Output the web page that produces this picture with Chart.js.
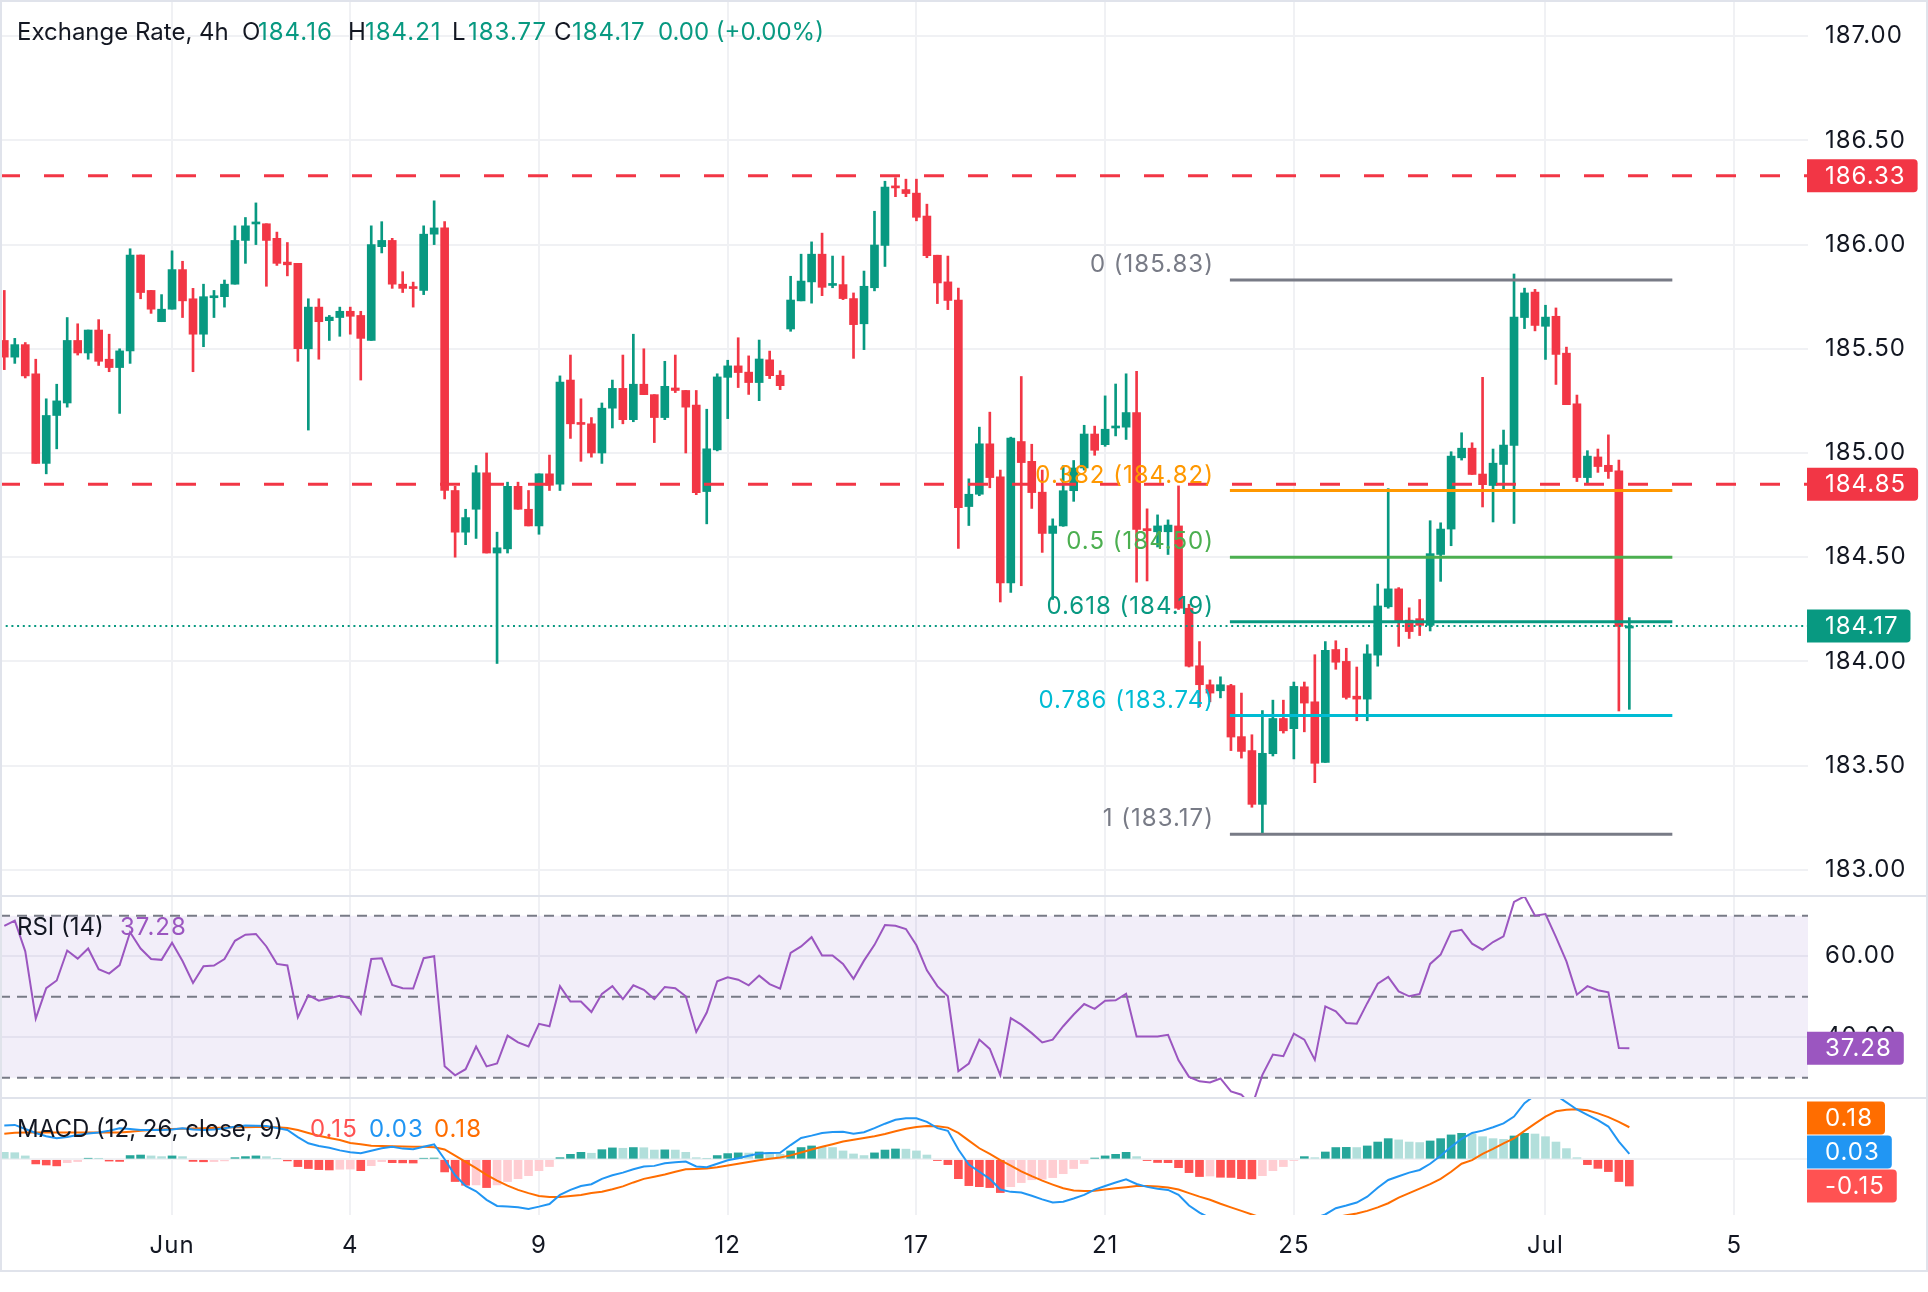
<!DOCTYPE html>
<html>
<head>
<meta charset="utf-8">
<title>Exchange Rate, 4h</title>
<script src="https://cdn.jsdelivr.net/npm/chart.js@4.4.1/dist/chart.umd.min.js"></script>
<style>
    html, body { margin: 0; padding: 0; background: #fff; }
    #wrap { position: relative; width: 1928px; height: 1292px; overflow: hidden; background: #fff; }
    canvas { position: absolute; left: 0; display: block; }
    #priceChart { top: 0; }
    #rsiChart { top: 895px; }
    #macdChart { top: 1097px; }
</style>
</head>
<body>
<div id="wrap">
    <canvas id="priceChart" width="1928" height="895"></canvas>
    <canvas id="rsiChart" width="1928" height="202"></canvas>
    <canvas id="macdChart" width="1928" height="175"></canvas>
</div>
<script>
const opens = [
    185.54, 185.46, 185.52, 185.38, 184.95, 185.18, 185.24, 185.54, 185.48, 185.59,
    185.45, 185.41, 185.49, 185.95, 185.78, 185.63, 185.69, 185.88, 185.74, 185.57,
    185.745, 185.75, 185.81, 186.02, 186.099, 186.10, 186.03, 185.916, 185.91, 185.50,
    185.70, 185.635, 185.65, 185.68, 185.66, 185.54, 185.99, 186.02, 185.81, 185.795,
    185.78, 186.05, 186.08, 184.82, 184.62, 184.73, 184.905, 184.52, 184.54, 184.84,
    184.73, 184.65, 184.90, 184.85, 185.35, 185.143, 185.14, 185.00, 185.215, 185.31,
    185.16, 185.33, 185.28, 185.17, 185.312, 185.30, 185.23, 184.815, 185.015, 185.363,
    185.418, 185.388, 185.338, 185.447, 185.373, 185.595, 185.730, 185.821, 185.954, 185.804,
    185.808, 185.741, 185.620, 185.793, 185.996, 186.281, 186.264, 186.247, 186.137, 185.949,
    185.821, 185.734, 184.743, 184.802, 185.044, 184.886, 184.376, 185.055, 184.960, 184.812,
    184.614, 184.650, 184.819, 184.928, 185.091, 185.040, 185.120, 185.124, 185.194, 184.637,
    184.622, 184.622, 184.650, 184.255, 183.979, 183.888, 183.859, 183.884, 183.639, 183.572,
    183.314, 183.557, 183.726, 183.677, 183.878, 183.806, 183.515, 184.057, 184.000, 183.833,
    183.819, 184.030, 184.262, 184.348, 184.198, 184.205, 184.173, 184.513, 184.635, 184.977,
    185.023, 184.899, 184.844, 184.945, 185.036, 185.650, 185.772, 185.608, 185.656, 185.479,
    185.236, 184.882, 184.981, 184.941, 184.914, 184.16
];
const highs = [
    185.78, 185.55, 185.53, 185.45, 185.26, 185.33, 185.65, 185.62, 185.59, 185.64,
    185.57, 185.50, 185.98, 185.95, 185.78, 185.76, 185.97, 185.92, 185.79, 185.81,
    185.78, 185.83, 186.09, 186.13, 186.20, 186.10, 186.06, 186.01, 185.91, 185.74,
    185.74, 185.66, 185.70, 185.70, 185.68, 186.09, 186.11, 186.03, 185.87, 185.82,
    186.09, 186.21, 186.11, 184.84, 184.73, 184.94, 185.00, 184.62, 184.86, 184.86,
    184.82, 184.90, 184.99, 185.37, 185.47, 185.26, 185.17, 185.24, 185.35, 185.47,
    185.57, 185.50, 185.28, 185.44, 185.47, 185.30, 185.30, 185.21, 185.38, 185.445,
    185.553, 185.466, 185.542, 185.489, 185.395, 185.848, 185.954, 186.013, 186.055, 185.945,
    185.945, 185.768, 185.873, 186.160, 186.304, 186.321, 186.314, 186.314, 186.194, 185.949,
    185.945, 185.791, 184.876, 185.124, 185.196, 184.918, 185.076, 185.367, 185.042, 184.918,
    184.684, 184.939, 184.964, 185.133, 185.129, 185.274, 185.331, 185.380, 185.392, 184.732,
    184.703, 184.679, 184.842, 184.274, 184.095, 183.911, 183.926, 183.890, 183.848, 183.648,
    183.764, 183.814, 183.814, 183.901, 183.901, 184.032, 184.095, 184.099, 184.063, 183.973,
    184.080, 184.371, 184.829, 184.354, 184.257, 184.297, 184.675, 184.665, 185.006, 185.097,
    185.049, 185.363, 185.019, 185.110, 185.859, 185.791, 185.785, 185.709, 185.696, 185.508,
    185.278, 185.011, 185.019, 185.087, 184.966, 184.21
];
const lows = [
    185.40, 185.43, 185.36, 184.95, 184.90, 185.02, 185.22, 185.47, 185.45, 185.42,
    185.39, 185.19, 185.43, 185.74, 185.67, 185.63, 185.69, 185.65, 185.39, 185.51,
    185.65, 185.70, 185.81, 185.91, 186.00, 185.80, 185.90, 185.85, 185.44, 185.11,
    185.45, 185.54, 185.56, 185.57, 185.35, 185.54, 185.96, 185.79, 185.77, 185.70,
    185.76, 186.00, 184.78, 184.50, 184.56, 184.59, 184.52, 183.99, 184.52, 184.73,
    184.65, 184.61, 184.82, 184.82, 185.07, 184.96, 184.98, 184.95, 185.12, 185.14,
    185.15, 185.28, 185.05, 185.16, 185.29, 185.00, 184.80, 184.66, 185.01, 185.165,
    185.314, 185.281, 185.251, 185.357, 185.304, 185.584, 185.730, 185.719, 185.755, 185.793,
    185.736, 185.454, 185.496, 185.778, 185.895, 186.230, 186.230, 186.114, 185.937, 185.717,
    185.688, 184.542, 184.652, 184.795, 184.833, 184.285, 184.331, 184.363, 184.734, 184.523,
    184.297, 184.648, 184.768, 184.918, 184.989, 185.032, 185.082, 185.065, 184.380, 184.386,
    184.549, 184.513, 184.249, 183.973, 183.783, 183.806, 183.825, 183.572, 183.536, 183.300,
    183.171, 183.546, 183.656, 183.532, 183.662, 183.418, 183.515, 183.962, 183.819, 183.715,
    183.715, 183.977, 184.255, 184.072, 184.110, 184.124, 184.146, 184.384, 184.555, 184.966,
    184.897, 184.741, 184.669, 184.823, 184.662, 185.597, 185.586, 185.449, 185.329, 185.232,
    184.863, 184.854, 184.907, 184.878, 183.762, 183.77
];
const closes = [
    185.46, 185.52, 185.37, 184.95, 185.18, 185.25, 185.54, 185.48, 185.59, 185.44,
    185.41, 185.49, 185.95, 185.77, 185.69, 185.69, 185.88, 185.73, 185.57, 185.75,
    185.753, 185.81, 186.02, 186.09, 186.105, 186.02, 185.91, 185.903, 185.50, 185.70,
    185.63, 185.652, 185.68, 185.656, 185.55, 186.00, 186.02, 185.81, 185.79, 185.789,
    186.05, 186.08, 184.82, 184.62, 184.69, 184.905, 184.52, 184.545, 184.84, 184.73,
    184.65, 184.90, 184.845, 185.34, 185.14, 185.137, 185.00, 185.215, 185.31, 185.16,
    185.33, 185.28, 185.17, 185.32, 185.30, 185.22, 184.81, 185.02, 185.365, 185.418,
    185.386, 185.338, 185.451, 185.371, 185.323, 185.734, 185.825, 185.954, 185.795, 185.812,
    185.741, 185.616, 185.800, 185.998, 186.276, 186.272, 186.245, 186.131, 185.947, 185.816,
    185.732, 184.738, 184.802, 185.044, 184.882, 184.376, 185.072, 184.954, 184.810, 184.614,
    184.650, 184.819, 184.928, 185.091, 185.013, 185.114, 185.127, 185.194, 184.633, 184.627,
    184.650, 184.654, 184.255, 183.977, 183.888, 183.848, 183.888, 183.637, 183.568, 183.314,
    183.559, 183.726, 183.667, 183.880, 183.800, 183.511, 184.053, 183.996, 183.827, 183.819,
    184.036, 184.266, 184.348, 184.188, 184.143, 184.173, 184.517, 184.635, 184.985, 185.023,
    184.897, 184.848, 184.951, 185.038, 185.652, 185.768, 185.612, 185.652, 185.473, 185.232,
    184.882, 184.985, 184.935, 184.911, 184.168, 184.17
];

const rsiValues = [
    67.5, 68.8, 61.2, 44.6, 52.1, 54.0, 61.4, 59.4, 61.9, 56.8,
    55.7, 57.8, 65.9, 61.9, 59.3, 59.1, 63.3, 58.8, 53.4, 57.5,
    57.7, 59.3, 63.8, 65.3, 65.5, 62.4, 58.1, 57.7, 44.9, 50.4,
    49.0, 49.6, 50.2, 49.6, 45.8, 59.3, 59.5, 52.9, 52.1, 52.0,
    59.5, 60.0, 32.8, 30.6, 32.1, 37.7, 32.8, 33.5, 40.4, 38.7,
    37.7, 43.3, 42.7, 52.6, 48.8, 48.8, 46.2, 50.7, 52.6, 49.4,
    52.8, 51.7, 49.4, 52.4, 52.1, 50.1, 41.3, 46.1, 53.8, 54.8,
    54.2, 52.8, 55.2, 53.1, 52.0, 60.8, 62.4, 64.7, 60.2, 60.2,
    58.1, 54.4, 58.9, 62.8, 67.7, 67.5, 66.7, 62.7, 56.5, 52.6,
    50.1, 31.6, 33.5, 39.4, 37.1, 30.6, 44.7, 43.1, 41.0, 38.7,
    39.4, 42.7, 45.6, 48.2, 47.0, 49.0, 49.1, 50.7, 40.2, 40.2,
    40.2, 40.6, 34.3, 30.2, 29.1, 28.8, 29.8, 26.6, 25.8, 22.9,
    30.7, 35.7, 35.3, 40.9, 39.4, 34.4, 47.6, 46.4, 43.5, 43.3,
    48.4, 53.2, 54.9, 51.3, 50.1, 50.7, 58.1, 60.4, 66.0, 66.5,
    63.1, 61.6, 63.5, 64.9, 73.4, 74.8, 70.0, 70.4, 64.7, 58.7,
    50.5, 52.6, 51.6, 51.1, 37.3, 37.28
];

const macdLine = [
    0.190, 0.193, 0.170, 0.148, 0.130, 0.118, 0.125, 0.137, 0.145, 0.150,
    0.160, 0.174, 0.170, 0.165, 0.165, 0.165, 0.168, 0.174, 0.168, 0.165,
    0.168, 0.174, 0.183, 0.190, 0.189, 0.187, 0.176, 0.165, 0.125, 0.090,
    0.075, 0.065, 0.050, 0.040, 0.034, 0.048, 0.062, 0.070, 0.060, 0.056,
    0.070, 0.084, 0.000, -0.090, -0.150, -0.180, -0.228, -0.262, -0.265, -0.270,
    -0.279, -0.266, -0.251, -0.200, -0.172, -0.150, -0.140, -0.110, -0.090, -0.075,
    -0.056, -0.040, -0.037, -0.022, -0.016, -0.013, -0.040, -0.045, -0.025, -0.005,
    0.006, 0.020, 0.033, 0.035, 0.037, 0.080, 0.120, 0.133, 0.148, 0.153,
    0.155, 0.143, 0.152, 0.175, 0.200, 0.222, 0.230, 0.230, 0.210, 0.175,
    0.160, 0.055, -0.030, -0.070, -0.110, -0.170, -0.183, -0.187, -0.205, -0.225,
    -0.243, -0.238, -0.220, -0.200, -0.170, -0.150, -0.130, -0.112, -0.139, -0.155,
    -0.165, -0.172, -0.200, -0.260, -0.300, -0.330, -0.360, -0.370, -0.400, -0.420,
    -0.420, -0.400, -0.385, -0.350, -0.330, -0.330, -0.310, -0.275, -0.260, -0.243,
    -0.210, -0.160, -0.116, -0.095, -0.075, -0.060, -0.025, 0.020, 0.070, 0.115,
    0.148, 0.161, 0.180, 0.202, 0.240, 0.315, 0.360, 0.380, 0.360, 0.320,
    0.280, 0.250, 0.220, 0.184, 0.099, 0.030
];
const signalLine = [
    0.143, 0.149, 0.150, 0.150, 0.150, 0.150, 0.150, 0.150, 0.150, 0.150,
    0.150, 0.150, 0.155, 0.160, 0.165, 0.168, 0.170, 0.172, 0.173, 0.174,
    0.176, 0.178, 0.180, 0.180, 0.181, 0.181, 0.180, 0.176, 0.165, 0.148,
    0.132, 0.120, 0.108, 0.092, 0.085, 0.076, 0.074, 0.073, 0.072, 0.071,
    0.070, 0.068, 0.055, 0.020, -0.015, -0.050, -0.088, -0.120, -0.148, -0.172,
    -0.190, -0.206, -0.212, -0.212, -0.206, -0.200, -0.190, -0.182, -0.168, -0.152,
    -0.130, -0.110, -0.098, -0.085, -0.070, -0.056, -0.054, -0.052, -0.045, -0.035,
    -0.025, -0.015, -0.005, 0.003, 0.010, 0.022, 0.038, 0.055, 0.070, 0.085,
    0.100, 0.110, 0.120, 0.130, 0.142, 0.158, 0.172, 0.182, 0.187, 0.185,
    0.178, 0.148, 0.105, 0.062, 0.030, -0.005, -0.035, -0.068, -0.095, -0.120,
    -0.142, -0.163, -0.175, -0.178, -0.177, -0.170, -0.163, -0.157, -0.150, -0.150,
    -0.153, -0.158, -0.170, -0.190, -0.210, -0.227, -0.250, -0.270, -0.290, -0.310,
    -0.330, -0.340, -0.345, -0.345, -0.345, -0.340, -0.335, -0.325, -0.315, -0.305,
    -0.290, -0.270, -0.247, -0.215, -0.190, -0.165, -0.140, -0.110, -0.070, -0.025,
    -0.005, 0.030, 0.058, 0.090, 0.118, 0.160, 0.200, 0.240, 0.270, 0.278,
    0.281, 0.275, 0.258, 0.237, 0.210, 0.180
];
const macdHist = [
    0.039, 0.037, 0.019, -0.026, -0.032, -0.037, -0.019, -0.013, 0.006, 0.004,
    -0.010, -0.012, 0.021, 0.024, 0.019, 0.015, 0.019, 0.015, -0.012, -0.014,
    -0.013, -0.009, 0.009, 0.015, 0.019, 0.015, 0.004, -0.009, -0.041, -0.052,
    -0.058, -0.060, -0.056, -0.055, -0.064, -0.036, -0.013, -0.019, -0.020, -0.021,
    0.006, 0.007, -0.071, -0.125, -0.146, -0.144, -0.159, -0.144, -0.125, -0.109,
    -0.092, -0.064, -0.041, 0.009, 0.028, 0.039, 0.034, 0.054, 0.064, 0.062,
    0.066, 0.065, 0.052, 0.053, 0.052, 0.039, 0.009, 0.004, 0.021, 0.032,
    0.036, 0.035, 0.041, 0.037, 0.028, 0.047, 0.066, 0.075, 0.068, 0.066,
    0.047, 0.030, 0.021, 0.036, 0.052, 0.058, 0.057, 0.047, 0.024, -0.007,
    -0.030, -0.109, -0.148, -0.154, -0.159, -0.187, -0.154, -0.131, -0.115, -0.112,
    -0.103, -0.081, -0.052, -0.024, 0.007, 0.019, 0.028, 0.039, 0.015, -0.007,
    -0.018, -0.019, -0.047, -0.075, -0.097, -0.094, -0.101, -0.102, -0.109, -0.110,
    -0.092, -0.064, -0.041, -0.007, 0.015, 0.009, 0.041, 0.066, 0.067, 0.066,
    0.075, 0.097, 0.116, 0.109, 0.097, 0.094, 0.103, 0.116, 0.137, 0.146,
    0.142, 0.127, 0.116, 0.112, 0.131, 0.146, 0.142, 0.127, 0.097, 0.060,
    0.009, -0.030, -0.051, -0.069, -0.125, -0.150
];

const priceTicks = [183.0, 183.5, 184.0, 184.5, 185.0, 185.5, 186.0, 186.5, 187.0];
const rsiTicks = [40, 60];
const rsiLevels = [70, 50, 30];
const dayTickIndex = [16, 33, 51, 69, 87, 105, 123, 147, 165];
const dayTickLabels = ['Jun', '4', '9', '12', '17', '21', '25', 'Jul', '5'];

const fibLevels = [0, 0.382, 0.5, 0.618, 0.786, 1];
const fibPrices = [185.83, 184.82, 184.50, 184.19, 183.74, 183.17];
const fibColors = ['#787B86', '#FF9800', '#4CAF50', '#089981', '#00BCD4', '#787B86'];
const fibFrom = 116.9;
const fibTo = 159.1;
const levelPrices = [186.33, 184.85];

const UP = '#089981';
const DOWN = '#F23645';
const INK = '#131722';
const GRID = '#F0F1F4';
const FRAME = '#E0E3EB';
const RSI_COLOR = '#9B56C0';
const X_MIN = -0.41;
const X_MAX = 172.04;
const FONT = 'Inter, "Noto Sans", sans-serif';
const NUM_SPACING = '1px';

Chart.defaults.font.family = FONT;
Chart.defaults.font.size = 24;

const last = closes.length - 1;
const idx = closes.map((_, i) => i);
const candleColors = closes.map((c, i) => c >= opens[i] ? UP : DOWN);
const histColors = macdHist.map((h, i) => {
    const prev = i > 0 ? macdHist[i - 1] : h;
    if (h >= 0) return h > prev ? '#26A69A' : '#B2DFDB';
    return h < prev ? '#FF5252' : '#FFCDD2';
});

function span(v) {
    return [{ x: X_MIN, y: v }, { x: X_MAX, y: v }];
}

function xAxis(showLabels, height) {
    return {
        type: 'linear',
        min: X_MIN,
        max: X_MAX,
        offset: false,
        grid: { color: GRID, lineWidth: 2, drawTicks: false, offset: false },
        border: { display: false },
        ticks: {
            display: showLabels,
            autoSkip: false,
            maxRotation: 0,
            padding: 16,
            color: INK,
            callback: v => dayTickLabels[dayTickIndex.indexOf(v)]
        },
        afterBuildTicks: scale => { scale.ticks = dayTickIndex.map(v => ({ value: v })); },
        afterFit: scale => {
            scale.height = height;
            scale.paddingLeft = 0;
            scale.paddingRight = 0;
            scale.paddingTop = 0;
            scale.paddingBottom = 0;
        }
    };
}

function yAxis(min, max, ticks, showLabels) {
    return {
        position: 'right',
        min: min,
        max: max,
        grid: { color: GRID, lineWidth: 2, drawTicks: false },
        border: { display: false },
        ticks: {
            display: showLabels,
            padding: 17,
            color: INK,
            callback: v => v.toFixed(2)
        },
        afterBuildTicks: scale => { scale.ticks = ticks.map(v => ({ value: v })); },
        afterFit: scale => {
            scale.width = 120;
            scale.paddingLeft = 0;
            scale.paddingRight = 0;
            scale.paddingTop = 0;
            scale.paddingBottom = 0;
        }
    };
}

function baseOptions(x, y) {
    return {
        responsive: false,
        animation: false,
        events: [],
        layout: { padding: 0, autoPadding: false },
        plugins: {
            legend: { display: false },
            tooltip: { enabled: false },
            filler: { drawTime: 'beforeDatasetsDraw' }
        },
        scales: { x: x, y: y }
    };
}

// wider figures for the axis labels, like the original screenshot
const spacedTicks = {
    id: 'spacedTicks',
    beforeDraw(chart) { chart.ctx.letterSpacing = NUM_SPACING; },
    afterDatasetsDraw(chart) { chart.ctx.letterSpacing = '0px'; }
};

function frame(ctx, w, h, top, bottom) {
    ctx.fillStyle = FRAME;
    ctx.fillRect(0, 0, 2, h);
    ctx.fillRect(w - 2, 0, 2, h);
    if (top) ctx.fillRect(0, 0, w, 2);
    if (bottom) ctx.fillRect(0, h - 2, w, 2);
}

function badge(ctx, text, color, yc) {
    ctx.font = '24px ' + FONT;
    ctx.letterSpacing = NUM_SPACING;
    const w = ctx.measureText(text).width + 30;
    const h = 33;
    ctx.fillStyle = color;
    ctx.beginPath();
    ctx.roundRect(1807, yc - h / 2, w, h, [0, 4, 4, 0]);
    ctx.fill();
    ctx.fillStyle = '#FFFFFF';
    ctx.textAlign = 'left';
    ctx.textBaseline = 'middle';
    ctx.fillText(text, 1825, yc + 1);
    ctx.letterSpacing = '0px';
}

// parts: [text, colour, x, spaced]
function legend(ctx, parts, baseline) {
    ctx.font = '24px ' + FONT;
    ctx.textAlign = 'left';
    ctx.textBaseline = 'alphabetic';
    parts.forEach(p => {
        ctx.letterSpacing = p[3] ? NUM_SPACING : '0px';
        ctx.fillStyle = p[1];
        ctx.fillText(p[0], p[2], baseline);
    });
    ctx.letterSpacing = '0px';
}

// price panel
const priceOverlay = {
    id: 'priceOverlay',
    afterDatasetsDraw(chart) {
        const ctx = chart.ctx;
        const x = chart.scales.x;
        const y = chart.scales.y;
        ctx.save();
        ctx.font = '24px ' + FONT;
        ctx.letterSpacing = NUM_SPACING;
        ctx.textAlign = 'right';
        ctx.textBaseline = 'alphabetic';
        fibPrices.forEach((p, k) => {
            ctx.fillStyle = fibColors[k];
            ctx.fillText(fibLevels[k] + ' (' + p.toFixed(2) + ')', x.getPixelForValue(fibFrom) - 16, y.getPixelForValue(p) - 8);
        });
        ctx.restore();
    },
    afterDraw(chart) {
        const ctx = chart.ctx;
        const y = chart.scales.y;
        ctx.save();
        levelPrices.forEach(p => badge(ctx, p.toFixed(2), DOWN, y.getPixelForValue(p)));
        badge(ctx, closes[last].toFixed(2), UP, y.getPixelForValue(closes[last]));

        const change = closes[last] - closes[last - 1];
        const pct = change / closes[last - 1] * 100;
        const changeText = change.toFixed(2) + ' (' + (pct >= 0 ? '+' : '') + pct.toFixed(2) + '%)';
        legend(ctx, [
            ['Exchange Rate, 4h', INK, 17, false],
            ['O', INK, 242, false], [opens[last].toFixed(2), UP, 258, true],
            ['H', INK, 348, false], [highs[last].toFixed(2), UP, 365, true],
            ['L', INK, 452, false], [lows[last].toFixed(2), UP, 468, true],
            ['C', INK, 554, false], [closes[last].toFixed(2), UP, 572, true],
            [changeText, UP, 658, false]
        ], 40);
        frame(ctx, chart.width, chart.height, true, false);
        ctx.restore();
    }
};

const priceDatasets = [];
fibPrices.forEach((p, k) => {
    priceDatasets.push({
        type: 'line',
        label: 'Fib ' + fibLevels[k],
        data: [{ x: fibFrom, y: p }, { x: fibTo, y: p }],
        borderColor: fibColors[k],
        borderWidth: 3,
        pointRadius: 0,
        fill: false,
        order: 0
    });
});
levelPrices.forEach(p => {
    priceDatasets.push({
        type: 'line',
        label: 'Level ' + p,
        data: span(p),
        borderColor: DOWN,
        borderWidth: 3,
        borderDash: [20, 24],
        pointRadius: 0,
        fill: false,
        order: 0
    });
});
priceDatasets.push({
    type: 'line',
    label: 'Last',
    data: span(closes[last]),
    borderColor: UP,
    borderWidth: 2,
    borderDash: [2, 3.7],
    pointRadius: 0,
    fill: false,
    order: 0
});
priceDatasets.push({
    label: 'Body',
    data: idx.map(i => ({ x: i, y: [opens[i], closes[i]] })),
    backgroundColor: candleColors,
    barThickness: 8,
    minBarLength: 2,
    grouped: false,
    order: 1
});
priceDatasets.push({
    label: 'Wick',
    data: idx.map(i => ({ x: i, y: [lows[i], highs[i]] })),
    backgroundColor: candleColors,
    barThickness: 2,
    grouped: false,
    order: 2
});

new Chart(document.getElementById('priceChart'), {
    type: 'bar',
    data: { datasets: priceDatasets },
    options: baseOptions(xAxis(false, 0), yAxis(182.879, 187.1737, priceTicks, true)),
    plugins: [spacedTicks, priceOverlay]
});

// RSI panel
const rsiOverlay = {
    id: 'rsiOverlay',
    afterDraw(chart) {
        const ctx = chart.ctx;
        const y = chart.scales.y;
        ctx.save();
        legend(ctx, [['RSI (14)', INK, 17, false], [rsiValues[last].toFixed(2), RSI_COLOR, 120, true]], 40);
        badge(ctx, rsiValues[last].toFixed(2), RSI_COLOR, y.getPixelForValue(rsiValues[last]));
        frame(ctx, chart.width, chart.height, true, false);
        ctx.restore();
    }
};

const rsiDatasets = [{
    label: 'RSI',
    data: idx.map(i => ({ x: i, y: rsiValues[i] })),
    borderColor: RSI_COLOR,
    borderWidth: 2,
    pointRadius: 0,
    tension: 0,
    fill: false,
    order: 0
}];
rsiLevels.forEach((v, k) => {
    rsiDatasets.push({
        label: 'Level ' + v,
        data: span(v),
        borderColor: '#787B86',
        borderWidth: 2,
        borderDash: [10, 7],
        pointRadius: 0,
        fill: k === 0 ? '+2' : false,
        backgroundColor: 'rgba(126, 87, 194, 0.1)',
        order: 1
    });
});

new Chart(document.getElementById('rsiChart'), {
    type: 'line',
    data: { datasets: rsiDatasets },
    options: baseOptions(xAxis(false, 0), yAxis(25.23, 75.11, rsiTicks, true)),
    plugins: [spacedTicks, rsiOverlay]
});

// MACD panel
const macdOverlay = {
    id: 'macdOverlay',
    afterDraw(chart) {
        const ctx = chart.ctx;
        const y = chart.scales.y;
        const h = macdHist[last];
        const m = macdLine[last];
        const s = signalLine[last];
        ctx.save();
        legend(ctx, [
            ['MACD (12, 26, close, 9)', INK, 17, false],
            [Math.abs(h).toFixed(2), '#FF5252', 310, true],
            [m.toFixed(2), '#2196F3', 369, true],
            [s.toFixed(2), '#FF6D00', 434, true]
        ], 39.5);
        const mid = y.getPixelForValue(m) - 2;
        badge(ctx, s.toFixed(2), '#FF6D00', mid - 34);
        badge(ctx, m.toFixed(2), '#2196F3', mid);
        badge(ctx, h.toFixed(2), '#FF5252', mid + 34);
        frame(ctx, chart.width, chart.height, true, true);
        ctx.restore();
    }
};

new Chart(document.getElementById('macdChart'), {
    type: 'bar',
    data: {
        datasets: [{
            type: 'line',
            label: 'MACD',
            data: idx.map(i => ({ x: i, y: macdLine[i] })),
            borderColor: '#2196F3',
            borderWidth: 2,
            pointRadius: 0,
            fill: false,
            order: 0
        }, {
            type: 'line',
            label: 'Signal',
            data: idx.map(i => ({ x: i, y: signalLine[i] })),
            borderColor: '#FF6D00',
            borderWidth: 2,
            pointRadius: 0,
            fill: false,
            order: 0
        }, {
            label: 'Histogram',
            data: idx.map(i => ({ x: i, y: macdHist[i] })),
            backgroundColor: histColors,
            barThickness: 8,
            grouped: false,
            order: 1
        }]
    },
    options: baseOptions(xAxis(true, 57), yAxis(-0.313, 0.35, [0], false)),
    plugins: [spacedTicks, macdOverlay]
});
</script>
</body>
</html>
